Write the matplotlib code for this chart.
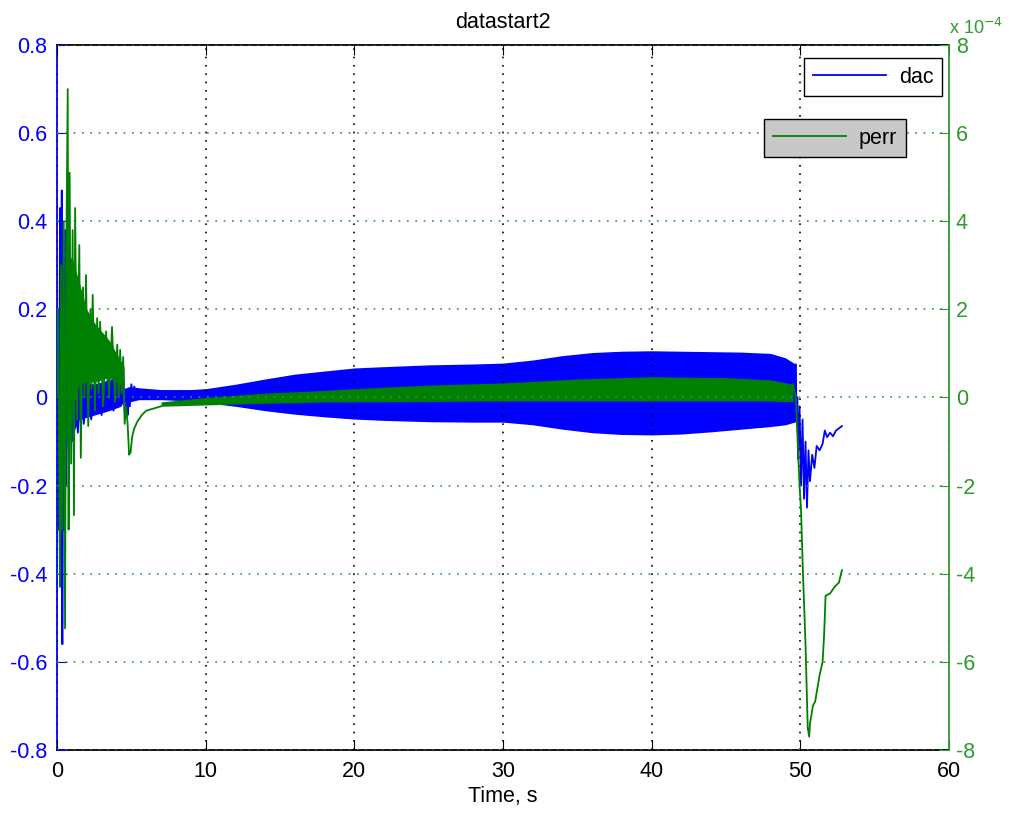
import matplotlib
matplotlib.use("Agg")
import matplotlib.pyplot as plt
from matplotlib.lines import Line2D

plt.rcParams['font.family'] = ['Liberation Sans', 'DejaVu Sans']

# dac: early transient spikes (time s, value)
dac_spike_t = [0.05, 0.1, 0.13, 0.2, 0.25, 0.32, 0.36, 0.42, 0.47, 0.55, 0.62, 0.7, 0.8,
               0.9, 1.0, 1.2, 1.4, 1.6, 1.8, 2.0, 2.3, 2.6, 3.0, 3.4, 3.8, 4.2, 4.45,
               4.55, 4.6, 4.7, 4.75, 4.85, 4.9, 5.0, 5.1, 5.2, 5.3]
dac_spike_v = [0.2, -0.1, -0.3, 0.43, -0.34, 0.47, -0.56, 0.22, -0.3, 0.38, -0.2, 0.12, -0.15,
               0.08, -0.1, 0.05, -0.08, 0.03, -0.06, 0.02, -0.05, 0.03, -0.04, 0.04, -0.03, 0.06, 0.07,
               -0.03, -0.047, 0.0, -0.04, 0.02, -0.02, 0.03, 0.0, 0.025, 0.0]

# dac: oscillation envelope
dac_band_t = [0.8, 1.5, 2.5, 3.5, 4.3, 4.45, 4.9, 5.5, 7, 9, 10, 12, 14, 16, 18, 20, 22, 25,
              28, 30, 32, 34, 36, 38, 40, 42, 44, 46, 48, 49, 49.7]
dac_band_hi = [0.08, 0.04, 0.03, 0.04, 0.05, 0.02, 0.025, 0.022, 0.018, 0.018, 0.02, 0.03,
               0.042, 0.053, 0.06, 0.067, 0.07, 0.074, 0.076, 0.078, 0.085, 0.095, 0.102,
               0.105, 0.106, 0.105, 0.104, 0.103, 0.1, 0.09, 0.075]
dac_band_lo = [-0.1, -0.05, -0.04, -0.03, -0.02, -0.01, -0.01, -0.005, -0.005, -0.008, -0.012,
               -0.02, -0.03, -0.038, -0.044, -0.049, -0.052, -0.055, -0.056, -0.056, -0.062,
               -0.072, -0.08, -0.084, -0.085, -0.083, -0.078, -0.072, -0.066, -0.062, -0.055]

# dac: after the drop
dac_tail_t = [49.7, 49.75, 49.8, 49.85, 49.95, 50.05, 50.15, 50.25, 50.35, 50.45, 50.55, 50.65,
              50.8, 50.95, 51.1, 51.3, 51.5, 51.65, 51.8, 52.0, 52.2, 52.4, 52.6, 52.8]
dac_tail_v = [0.075, -0.055, 0.0, -0.14, -0.02, -0.2, -0.05, -0.23, -0.1, -0.25, -0.12, -0.19,
              -0.13, -0.16, -0.11, -0.12, -0.105, -0.075, -0.09, -0.08, -0.088, -0.075, -0.07,
              -0.065]

# perr (x 1e-4): early transient spikes
perr_spike_t = [0.0, 0.08, 0.15, 0.2, 0.28, 0.35, 0.45, 0.54, 0.62, 0.72, 0.78, 0.85, 0.95,
                1.05, 1.14, 1.22, 1.35, 1.5, 1.6, 1.75, 1.85, 1.95, 2.1, 2.25, 2.32, 2.4, 2.55,
                2.7, 2.8, 2.9, 3.1, 3.3, 3.5, 3.7, 3.9, 4.05, 4.15, 4.25, 4.35, 4.45, 4.55,
                4.65, 4.75, 4.85, 4.95, 5.05, 5.2, 5.4, 5.7, 6.0, 6.5, 7.0]
perr_spike_v = [0.0, 2.0, -2.0, -4.3, 3.0, -3.0, 4.0, -5.24, 3.0, 7.0, -3.0, 5.1, -1.5,
                3.8, -2.67, 4.3, -0.5, 3.46, -1.37, 2.5, 0.0, 2.78, -0.65, 2.0, 0.2, 2.33, -0.3,
                1.8, 0.1, 1.72, -0.2, 1.5, 0.0, 1.6, -0.1, 1.2, 0.0, 1.08, 0.1, 0.92, -0.6,
                -0.2, -0.6, -1.3, -1.25, -0.9, -0.7, -0.55, -0.4, -0.3, -0.25, -0.2]

# perr: dense burst envelope
perr_burst_t = [0.6, 1.0, 1.5, 2.0, 2.5, 3.0, 3.5, 4.0, 4.5]
perr_burst_hi = [3.0, 3.2, 2.6, 2.0, 1.7, 1.5, 1.3, 1.0, 0.7]
perr_burst_lo = [-1.0, -0.3, 0.3, 0.35, 0.35, 0.4, 0.45, 0.35, 0.25]

# perr: oscillation envelope
perr_band_t = [7, 10, 12, 14, 16, 18, 20, 25, 30, 35, 40, 45, 48, 49.5]
perr_band_hi = [-0.1, 0.0, 0.05, 0.1, 0.13, 0.16, 0.2, 0.28, 0.33, 0.42, 0.47, 0.45, 0.40, 0.30]
perr_band_lo = [-0.2, -0.17, -0.15, -0.13, -0.12, -0.1, -0.1, -0.09, -0.08, -0.08, -0.08,
                -0.08, -0.08, -0.1]

# perr: after the drop
perr_tail_t = [49.5, 49.7, 49.85, 49.95, 50.05, 50.15, 50.35, 50.5, 50.6, 50.65, 50.85, 51.0,
               51.2, 51.3, 51.5, 51.6, 51.7, 52.0, 52.3, 52.6, 52.8]
perr_tail_v = [0.3, 0.0, -1.2, -2.0, -2.56, -3.7, -5.6, -7.5, -7.7, -7.4, -7.0, -6.9,
               -6.5, -6.3, -6.0, -5.4, -4.5, -4.45, -4.3, -4.2, -3.92]

x_ticks = [0, 10, 20, 30, 40, 50, 60]
left_ticks = [-0.8, -0.6, -0.4, -0.2, 0, 0.2, 0.4, 0.6, 0.8]
right_ticks = [-8, -6, -4, -2, 0, 2, 4, 6, 8]

BLUE = '#0000ff'
GREEN = '#008000'
GREEN_AX = '#2f9a2f'
FS = 15.5

fig = plt.figure(figsize=(10.09, 8.15), dpi=100)
ax = fig.add_axes([0.0565, 0.0798, 0.884, 0.865])
ax2 = ax.twinx()

# dac on the left axis
ax.fill_between(dac_band_t, dac_band_lo, dac_band_hi, color=BLUE, lw=0)
ax.plot(dac_spike_t, dac_spike_v, color=BLUE, lw=1.3)
ax.plot(dac_tail_t, dac_tail_v, color=BLUE, lw=1.3)

# perr on the right axis
ax2.fill_between(perr_burst_t, perr_burst_lo, perr_burst_hi, color=GREEN, lw=0)
ax2.fill_between(perr_band_t, perr_band_lo, perr_band_hi, color=GREEN, lw=0)
ax2.plot(perr_spike_t, perr_spike_v, color=GREEN, lw=1.3)
ax2.plot(perr_tail_t, perr_tail_v, color=GREEN, lw=1.3)

ax.set_xlim(0, 60)
ax.set_ylim(-0.8, 0.8)
ax2.set_ylim(-8, 8)
ax.set_xticks(x_ticks)
ax.set_yticks(left_ticks)
ax.set_yticklabels(['%g' % v for v in left_ticks])
ax2.set_yticks(right_ticks)
ax2.set_yticklabels(['%g' % v for v in right_ticks])

# grid: vertical black dotted, horizontal green dotted
ax.set_axisbelow(False)
ax.grid(True, axis='x', color='black', ls=(0, (1, 4)), lw=1.2)
ax2.grid(True, axis='y', color=GREEN_AX, ls=(0, (1, 4)), lw=1.2)

ax.tick_params(axis='x', direction='in', length=7, top=True, labelsize=FS, pad=8,
               colors='black')
ax.tick_params(axis='y', direction='in', length=7, labelsize=FS, pad=7, colors=BLUE)
ax2.tick_params(axis='y', direction='in', length=7, labelsize=FS, pad=5, colors=GREEN_AX)

ax.spines['left'].set_color(BLUE)
ax2.spines['left'].set_visible(False)
ax2.spines['right'].set_color(GREEN_AX)
ax2.spines['top'].set_visible(False)
ax2.spines['bottom'].set_visible(False)
ax.spines['right'].set_visible(False)
for sp in ax.spines.values():
    sp.set_linewidth(1.3)
ax2.spines['right'].set_linewidth(1.3)

ax.set_title('datastart2', fontsize=FS, pad=12)
ax.set_xlabel('Time, s', fontsize=FS, labelpad=3)

fig.text(0.941, 0.958, r'x 10$^{-4}$', color=GREEN_AX, fontsize=13,
         ha='left', va='baseline')

# legends
leg1 = ax2.legend([Line2D([], [], color=BLUE, lw=1.3)], ['dac'],
                  loc='upper right', bbox_to_anchor=(0.9336, 0.9288),
                  bbox_transform=fig.transFigure, fancybox=False, framealpha=1,
                  edgecolor='black', fontsize=FS, handlelength=3.4,
                  borderaxespad=0, borderpad=0.4, handletextpad=0.6)
leg1.get_frame().set_facecolor('white')
ax2.add_artist(leg1)
leg2 = ax2.legend([Line2D([], [], color=GREEN, lw=1.3)], ['perr'],
                  loc='upper right', bbox_to_anchor=(0.8979, 0.854),
                  bbox_transform=fig.transFigure, fancybox=False, framealpha=1,
                  edgecolor='black', fontsize=FS, handlelength=3.4,
                  borderaxespad=0, borderpad=0.4, handletextpad=0.6)
leg2.get_frame().set_facecolor('#c8c8c8')

fig.savefig('out.png', dpi=100)
